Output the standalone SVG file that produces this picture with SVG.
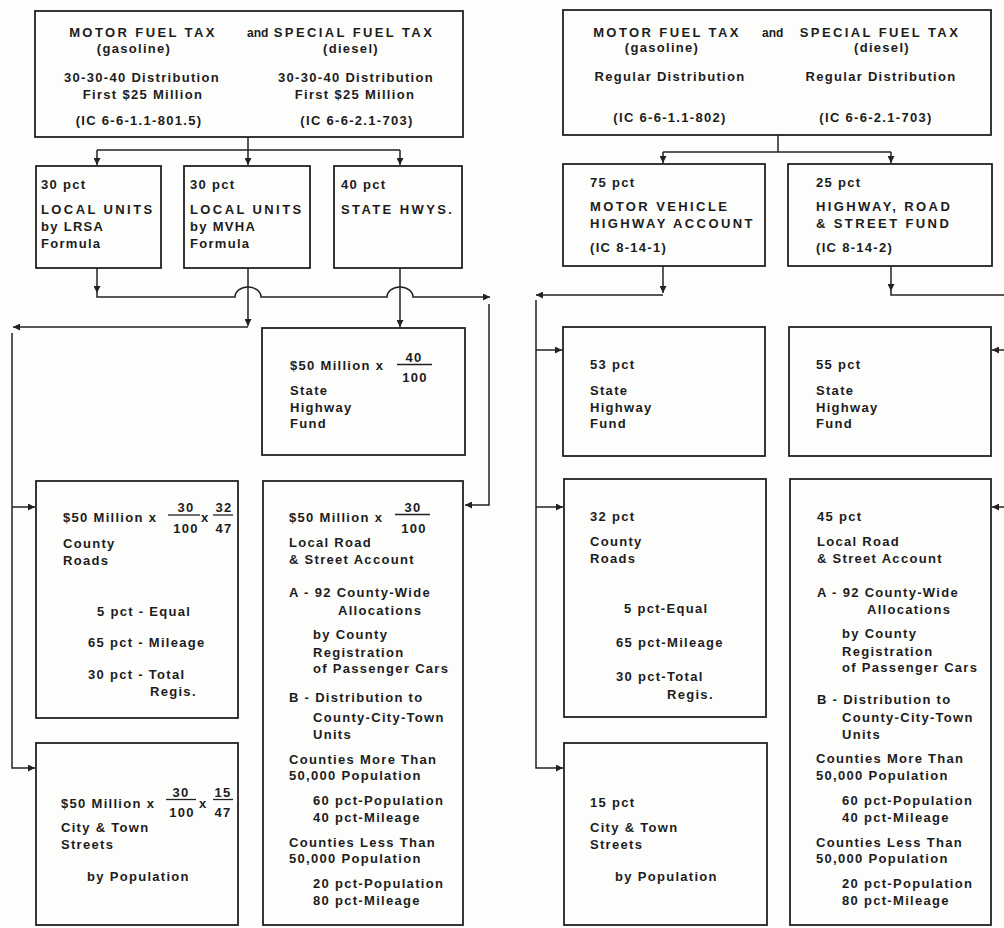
<svg xmlns="http://www.w3.org/2000/svg" width="1004" height="928" viewBox="0 0 1004 928">
<style>
.bg{fill:#fdfdfc}
.box{fill:none;stroke:#222;stroke-width:1.8}
.ln{fill:none;stroke:#222;stroke-width:1.5}
.fr{stroke:#222;stroke-width:1.3}
text{font-family:"Liberation Sans",Arial,Helvetica,sans-serif;font-weight:bold;font-size:13px;letter-spacing:1.3px;fill:#1c1c1c}
.c{letter-spacing:2.4px}
.m{text-anchor:middle}
.s{font-size:12px;letter-spacing:0px}
</style>
<defs>
<marker id="ar" viewBox="0 0 10 10" refX="10" refY="5" markerWidth="7" markerHeight="7" markerUnits="userSpaceOnUse" orient="auto">
<path d="M0,0 L10,5 L0,10 z" fill="#222"/>
</marker>
</defs>
<rect class="bg" x="0" y="0" width="1004" height="928"/>

<g id="connectors">
<!-- left panel -->
<path class="ln" d="M248,137 V150 M97,150 H400"/>
<path class="ln" d="M97,150 V165" marker-end="url(#ar)"/>
<path class="ln" d="M248,150 V165" marker-end="url(#ar)"/>
<path class="ln" d="M400,150 V165" marker-end="url(#ar)"/>
<path class="ln" d="M97,268 V293" marker-end="url(#ar)"/>
<path class="ln" d="M97,293 V297 H235 A13,10 0 0 1 261,297 H387 A13,10 0 0 1 413,297 H490" marker-end="url(#ar)"/>
<path class="ln" d="M248,268 V326" marker-end="url(#ar)"/>
<path class="ln" d="M248,327 H13" marker-end="url(#ar)"/>
<path class="ln" d="M400,268 V327" marker-end="url(#ar)"/>
<path class="ln" d="M489,304 V505 H465" marker-end="url(#ar)"/>
<path class="ln" d="M12,333 V768 H35" marker-end="url(#ar)"/>
<path class="ln" d="M12,507 H35" marker-end="url(#ar)"/>
<!-- right panel -->
<path class="ln" d="M778,135 V152 M663,152 H891"/>
<path class="ln" d="M663,152 V163" marker-end="url(#ar)"/>
<path class="ln" d="M891,152 V163" marker-end="url(#ar)"/>
<path class="ln" d="M663,266 V293" marker-end="url(#ar)"/>
<path class="ln" d="M663,295 H536" marker-end="url(#ar)"/>
<path class="ln" d="M536,300 V768 H563" marker-end="url(#ar)"/>
<path class="ln" d="M536,350 H562" marker-end="url(#ar)"/>
<path class="ln" d="M536,507 H563" marker-end="url(#ar)"/>
<path class="ln" d="M891,266 V291" marker-end="url(#ar)"/>
<path class="ln" d="M891,291 V295 H1004"/>
<path class="ln" d="M1004,350 H992" marker-end="url(#ar)"/>
<path class="ln" d="M1004,507 H992" marker-end="url(#ar)"/>
</g>

<!-- LEFT PANEL -->
<g id="left-source">
<rect class="box" x="35" y="11" width="428" height="126"/>
<text class="c m" x="143" y="37">MOTOR FUEL TAX</text>
<text class="s" x="247" y="37">and</text>
<text class="c m" x="354" y="37">SPECIAL FUEL TAX</text>
<text class="m" x="134" y="53">(gasoline)</text>
<text class="m" x="351" y="53">(diesel)</text>
<text class="m" x="142" y="82">30-30-40 Distribution</text>
<text class="m" x="143" y="99">First $25 Million</text>
<text class="m" x="356" y="82">30-30-40 Distribution</text>
<text class="m" x="355" y="99">First $25 Million</text>
<text class="m" x="139" y="125">(IC 6-6-1.1-801.5)</text>
<text class="m" x="357" y="125">(IC 6-6-2.1-703)</text>
</g>

<g id="left-lrsa">
<rect class="box" x="36" y="166" width="125" height="102"/>
<text x="41" y="189">30 pct</text>
<text class="c" x="41" y="214">LOCAL UNITS</text>
<text x="41" y="231">by LRSA</text>
<text x="41" y="248">Formula</text>
</g>

<g id="left-mvha">
<rect class="box" x="184" y="166" width="126" height="102"/>
<text x="190" y="189">30 pct</text>
<text class="c" x="190" y="214">LOCAL UNITS</text>
<text x="190" y="231">by MVHA</text>
<text x="190" y="248">Formula</text>
</g>

<g id="left-statehwys">
<rect class="box" x="334" y="166" width="128" height="102"/>
<text x="341" y="189">40 pct</text>
<text class="c" x="341" y="214">STATE HWYS.</text>
</g>

<g id="left-statefund">
<rect class="box" x="262" y="328" width="203" height="127"/>
<text x="290" y="370">$50 Million x</text>
<text class="m" x="414" y="362">40</text>
<line class="fr" x1="397" y1="364.5" x2="432" y2="364.5"/>
<text class="m" x="415" y="382">100</text>
<text x="290" y="395">State</text>
<text x="290" y="412">Highway</text>
<text x="290" y="428">Fund</text>
</g>

<g id="left-county">
<rect class="box" x="36" y="481" width="202" height="237"/>
<text x="63" y="522">$50 Million x</text>
<text class="m" x="186" y="512">30</text>
<line class="fr" x1="168" y1="515" x2="200" y2="515"/>
<text class="m" x="186" y="533">100</text>
<text x="201" y="522">x</text>
<text class="m" x="224" y="512">32</text>
<line class="fr" x1="213" y1="515" x2="233" y2="515"/>
<text class="m" x="224" y="533">47</text>
<text x="63" y="548">County</text>
<text x="63" y="565">Roads</text>
<text x="97" y="616">5 pct - Equal</text>
<text x="88" y="647">65 pct - Mileage</text>
<text x="88" y="679">30 pct - Total</text>
<text x="150" y="696">Regis.</text>
</g>

<g id="left-localroad">
<rect class="box" x="263" y="481" width="200" height="444"/>
<text x="289" y="522">$50 Million x</text>
<text class="m" x="413" y="512">30</text>
<line class="fr" x1="395" y1="514.5" x2="430" y2="514.5"/>
<text class="m" x="414" y="533">100</text>
<text x="289" y="547">Local Road</text>
<text x="289" y="564">&amp; Street Account</text>
<text x="289" y="597">A - 92 County-Wide</text>
<text x="338" y="615">Allocations</text>
<text x="313" y="639">by County</text>
<text x="313" y="657">Registration</text>
<text x="313" y="673">of Passenger Cars</text>
<text x="289" y="702">B - Distribution to</text>
<text x="313" y="722">County-City-Town</text>
<text x="313" y="739">Units</text>
<text x="289" y="764">Counties More Than</text>
<text x="289" y="780">50,000 Population</text>
<text x="313" y="805">60 pct-Population</text>
<text x="313" y="822">40 pct-Mileage</text>
<text x="289" y="847">Counties Less Than</text>
<text x="289" y="863">50,000 Population</text>
<text x="313" y="888">20 pct-Population</text>
<text x="313" y="905">80 pct-Mileage</text>
</g>

<g id="left-citytown">
<rect class="box" x="36" y="743" width="202" height="182"/>
<text x="61" y="808">$50 Million x</text>
<text class="m" x="181" y="797">30</text>
<line class="fr" x1="166" y1="799.5" x2="196" y2="799.5"/>
<text class="m" x="182" y="817">100</text>
<text x="199" y="808">x</text>
<text class="m" x="223" y="797">15</text>
<line class="fr" x1="213" y1="799.5" x2="233" y2="799.5"/>
<text class="m" x="223" y="817">47</text>
<text x="61" y="832">City &amp; Town</text>
<text x="61" y="849">Streets</text>
<text x="87" y="881">by Population</text>
</g>

<!-- RIGHT PANEL -->
<g id="right-source">
<rect class="box" x="563" y="10" width="428" height="125"/>
<text class="c m" x="667" y="37">MOTOR FUEL TAX</text>
<text class="s" x="762" y="37">and</text>
<text class="c m" x="880" y="37">SPECIAL FUEL TAX</text>
<text class="m" x="662" y="52">(gasoline)</text>
<text class="m" x="882" y="52">(diesel)</text>
<text class="m" x="670" y="81">Regular Distribution</text>
<text class="m" x="881" y="81">Regular Distribution</text>
<text class="m" x="670" y="122">(IC 6-6-1.1-802)</text>
<text class="m" x="876" y="122">(IC 6-6-2.1-703)</text>
</g>

<g id="right-mvha">
<rect class="box" x="563" y="164" width="202" height="102"/>
<text x="590" y="187">75 pct</text>
<text class="c" x="590" y="211">MOTOR VEHICLE</text>
<text class="c" x="590" y="228">HIGHWAY ACCOUNT</text>
<text x="590" y="252">(IC 8-14-1)</text>
</g>

<g id="right-hrsf">
<rect class="box" x="788" y="164" width="204" height="102"/>
<text x="816" y="187">25 pct</text>
<text class="c" x="816" y="211">HIGHWAY, ROAD</text>
<text class="c" x="816" y="228">&amp; STREET FUND</text>
<text x="816" y="252">(IC 8-14-2)</text>
</g>

<g id="right-statefund53">
<rect class="box" x="563" y="327" width="202" height="129"/>
<text x="590" y="369">53 pct</text>
<text x="590" y="395">State</text>
<text x="590" y="412">Highway</text>
<text x="590" y="428">Fund</text>
</g>

<g id="right-statefund55">
<rect class="box" x="789" y="327" width="202" height="129"/>
<text x="816" y="369">55 pct</text>
<text x="816" y="395">State</text>
<text x="816" y="412">Highway</text>
<text x="816" y="428">Fund</text>
</g>

<g id="right-county">
<rect class="box" x="564" y="479" width="202" height="238"/>
<text x="590" y="521">32 pct</text>
<text x="590" y="546">County</text>
<text x="590" y="563">Roads</text>
<text x="624" y="613">5 pct-Equal</text>
<text x="616" y="647">65 pct-Mileage</text>
<text x="616" y="681">30 pct-Total</text>
<text x="667" y="699">Regis.</text>
</g>

<g id="right-localroad">
<rect class="box" x="790" y="479" width="201" height="446"/>
<text x="817" y="521">45 pct</text>
<text x="817" y="546">Local Road</text>
<text x="817" y="563">&amp; Street Account</text>
<text x="817" y="597">A - 92 County-Wide</text>
<text x="867" y="614">Allocations</text>
<text x="842" y="638">by County</text>
<text x="842" y="656">Registration</text>
<text x="842" y="672">of Passenger Cars</text>
<text x="817" y="704">B - Distribution to</text>
<text x="842" y="722">County-City-Town</text>
<text x="842" y="739">Units</text>
<text x="816" y="763">Counties More Than</text>
<text x="816" y="780">50,000 Population</text>
<text x="842" y="805">60 pct-Population</text>
<text x="842" y="822">40 pct-Mileage</text>
<text x="816" y="847">Counties Less Than</text>
<text x="816" y="863">50,000 Population</text>
<text x="842" y="888">20 pct-Population</text>
<text x="842" y="905">80 pct-Mileage</text>
</g>

<g id="right-citytown">
<rect class="box" x="564" y="743" width="203" height="182"/>
<text x="590" y="807">15 pct</text>
<text x="590" y="832">City &amp; Town</text>
<text x="590" y="849">Streets</text>
<text x="615" y="881">by Population</text>
</g>
</svg>
